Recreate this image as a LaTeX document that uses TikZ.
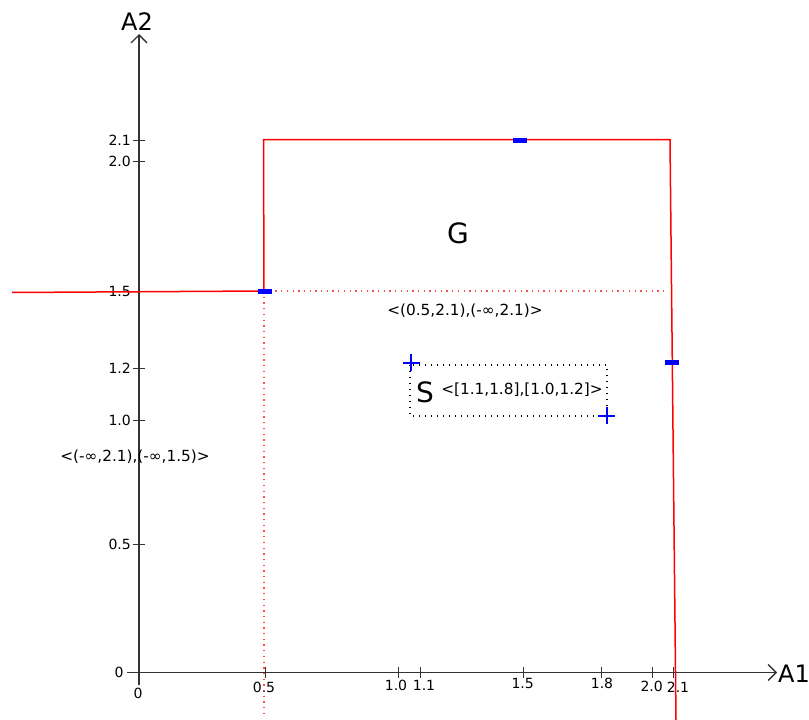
\documentclass[tikz,border=0pt]{standalone}
\usepackage{fontspec}
\setmainfont{DejaVu Sans}
\usetikzlibrary{arrows.meta}
\begin{document}
\begin{tikzpicture}[x=1pt,y=-1pt,
  axis/.style={draw=black!80, line width=1.3pt},
  tk/.style={draw=black!80, line width=1pt},
  ticklbl/.style={font=\fontsize{14}{16}\selectfont, inner sep=0pt, text=black},
  axlbl/.style={font=\fontsize{24}{28}\selectfont, inner sep=0pt},
  ivlbl/.style={font=\fontsize{15.3}{18}\selectfont, inner sep=0pt},
  biglbl/.style={font=\fontsize{28}{32}\selectfont, inner sep=0pt},
  redline/.style={draw=red, line width=1.5pt, line join=miter},
  reddot/.style={draw=red!70, line width=1.3pt, dash pattern=on 1.3pt off 4.4pt},
  blackdot/.style={draw=black, line width=1.2pt, dash pattern=on 1.2pt off 4.8pt},
  bmark/.style={fill=blue, draw=none, rectangle, minimum width=14pt, minimum height=5pt, inner sep=0pt},
  bcross/.style={draw=blue, line width=2pt}
]
\useasboundingbox (0,0) rectangle (809,720);

% axes
\coordinate (ybot) at (139,685);
\coordinate (ytop) at (139,34);
\coordinate (xleft) at (127,672.5);
\coordinate (xright) at (777,672.5);
\draw[axis,-{Straight Barb[length=8pt,width=16pt]}] (ybot) -- (ytop);
\draw[axis,-{Straight Barb[length=8pt,width=16pt]}] (xleft) -- (xright);
\node[axlbl] (A2) at (137,22) {A2};
\node[axlbl, anchor=west] (A1) at (778,674) {A1};

% y ticks
\foreach \yy/\t [count=\i] in {140.3/2.1, 161/2.0, 291.7/1.5, 368.3/1.2, 420.7/1.0, 544.3/0.5} {
  \draw[tk] (133,\yy) -- (145,\yy);
  \node[ticklbl, anchor=east] (yl\i) at (131,\yy) {\t};
}
\node[ticklbl] (y0) at (119,672) {0};

% x ticks
\foreach \xx in {265,398.3,420,523.3,601.7,652.3,673.3} {
  \draw[tk] (\xx,667) -- (\xx,678);
}
\node[ticklbl] (x0) at (138,693) {0};
\node[ticklbl] (x05) at (264,687.5) {0.5};
\node[ticklbl] (x10) at (396,685) {1.0};
\node[ticklbl] (x11) at (424,685) {1.1};
\node[ticklbl] (x15) at (522.7,683) {1.5};
\node[ticklbl] (x18) at (602,683) {1.8};
\node[ticklbl] (x20) at (651.7,686.7) {2.0};
\node[ticklbl] (x21) at (678,687) {2.1};

% red region G
\coordinate (ra) at (12,292.5);
\coordinate (rb) at (264,291);
\coordinate (rc) at (263.5,139.7);
\coordinate (rd) at (670,139.7);
\coordinate (re) at (676,720);
\draw[redline] (ra) -- (rb) -- (rc) -- (rd) -- (re);

% red dotted lines
\coordinate (dh) at (666,291);
\coordinate (dv) at (264,713);
\draw[reddot] (rb) -- (dh);
\draw[reddot] (rb) -- (dv);

% blue markers
\node[bmark] (m1) at (265,291) {};
\node[bmark] (m2) at (520,140) {};
\node[bmark] (m3) at (672,362.5) {};

% S box
\coordinate (s1) at (410,365);
\coordinate (s2) at (607,416);
\draw[blackdot] (s1) rectangle (s2);
\coordinate (c1) at (411,362.7);
\coordinate (c2) at (606.7,415.7);
\draw[bcross] ([xshift=-8.5pt]c1) -- ([xshift=8.5pt]c1) ([yshift=-8.5pt]c1) -- ([yshift=8.5pt]c1);
\draw[bcross] ([xshift=-8.5pt]c2) -- ([xshift=8.5pt]c2) ([yshift=-8.5pt]c2) -- ([yshift=8.5pt]c2);

% labels
\node[biglbl] (G) at (458,233) {G};
\node[biglbl] (S) at (425,392) {S};
\node[ivlbl] (lS) at (522,390) {<[1.1,1.8],[1.0,1.2]>};
\node[ivlbl] (lG) at (465,311) {<(0.5,2.1),(-∞,2.1)>};
\node[ivlbl] (lL) at (135,457) {<(-∞,2.1),(-∞,1.5)>};
\end{tikzpicture}
\end{document}
